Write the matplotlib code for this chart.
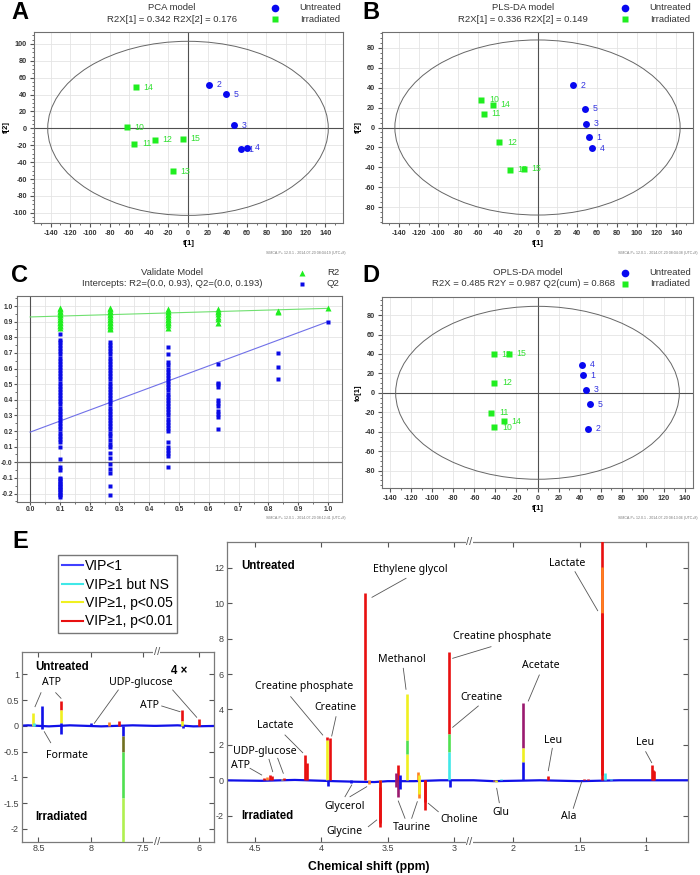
import matplotlib
matplotlib.use('Agg')
import matplotlib.pyplot as plt
from matplotlib.patches import Ellipse
from matplotlib.lines import Line2D
from matplotlib.ticker import FixedLocator, MultipleLocator, FixedFormatter

W, H = 700, 875
plt.rcParams['font.family'] = ['Liberation Sans', 'DejaVu Sans']
plt.rcParams['axes.unicode_minus'] = False

# ---------------- data ----------------
# Panel A (PCA)
A_unt_id = ['1', '2', '3', '4', '5']
A_unt_x = [54, 21.7, 47, 60, 39]
A_unt_y = [-24.5, 51.3, 3.9, -23, 40.6]
A_irr_id = ['10', '11', '12', '13', '14', '15']
A_irr_x = [-62.5, -54.6, -34, -15.3, -53, -5]
A_irr_y = [1.2, -18, -13.4, -51, 48.5, -12.6]
A_ellipse = [143, 103]

# Panel B (PLS-DA)
B_unt_id = ['1', '2', '3', '4', '5']
B_unt_x = [51.6, 35.4, 49, 55.3, 47.6]
B_unt_y = [-10, 42.6, 3.7, -20.8, 19]
B_irr_id = ['10', '11', '12', '13', '14', '15']
B_irr_x = [-56.7, -54, -38.5, -27.7, -44.9, -13.8]
B_irr_y = [28, 13.8, -15, -42.6, 23, -41.3]
B_ellipse = [144, 88]

# Panel D (OPLS-DA)
D_unt_id = ['1', '2', '3', '4', '5']
D_unt_x = [43.4, 48.1, 45.9, 42.4, 50.3]
D_unt_y = [17.9, -37, 3.1, 28.9, -11.6]
D_irr_id = ['10', '11', '12', '13', '14', '15']
D_irr_x = [-41, -44, -41, -41.4, -31.9, -27.5]
D_irr_y = [-35.7, -20.6, 10.3, 39.6, -29.2, 40.2]
D_ellipse = [135, 89]

# Panel C (permutation validation)
C_R2_x1, C_R2_1 = 0.1, [0.86, 0.87, 0.88, 0.89, 0.90, 0.91, 0.92, 0.93, 0.94, 0.95, 0.96, 0.97, 0.98, 0.99]
C_R2_x2, C_R2_2 = 0.267, [0.85, 0.86, 0.87, 0.88, 0.89, 0.90, 0.91, 0.92, 0.93, 0.94, 0.95, 0.96, 0.97, 0.98, 0.99]
C_R2_x3, C_R2_3 = 0.464, [0.86, 0.88, 0.89, 0.90, 0.91, 0.92, 0.93, 0.94, 0.95, 0.96, 0.97, 0.98]
C_R2_x4, C_R2_4 = 0.632, [0.89, 0.92, 0.93, 0.95, 0.96, 0.97, 0.98]
C_R2_x5, C_R2_5 = 0.831, [0.96, 0.965]
C_R2_x6, C_R2_6 = 1.0, [0.985]
C_Q2_1 = [-0.22, -0.21, -0.20, -0.19, -0.18, -0.17, -0.16, -0.15, -0.14, -0.13, -0.12, -0.11, -0.10,
          -0.05, -0.03, 0.02, 0.10, 0.13, 0.15, 0.17, 0.19, 0.21, 0.23, 0.25, 0.27, 0.29, 0.31, 0.33,
          0.35, 0.37, 0.39, 0.41, 0.43, 0.45, 0.47, 0.49, 0.51, 0.53, 0.55, 0.57, 0.59, 0.61, 0.63,
          0.65, 0.67, 0.69, 0.71, 0.73, 0.75, 0.77, 0.78, 0.82]
C_Q2_2 = [-0.21, -0.15, -0.07, -0.04, -0.01, 0.03, 0.06, 0.10, 0.12, 0.14, 0.17, 0.19, 0.21, 0.23,
          0.25, 0.27, 0.29, 0.31, 0.33, 0.35, 0.37, 0.39, 0.41, 0.43, 0.45, 0.47, 0.49, 0.51, 0.53,
          0.55, 0.57, 0.59, 0.61, 0.63, 0.65, 0.67, 0.69, 0.71, 0.73, 0.75, 0.77]
C_Q2_3 = [-0.03, 0.04, 0.06, 0.08, 0.10, 0.13, 0.20, 0.22, 0.24, 0.26, 0.28, 0.30, 0.32, 0.34, 0.36,
          0.38, 0.40, 0.42, 0.44, 0.46, 0.48, 0.50, 0.52, 0.54, 0.56, 0.58, 0.60, 0.62, 0.64, 0.69, 0.74]
C_Q2_4 = [0.21, 0.29, 0.31, 0.33, 0.36, 0.38, 0.40, 0.48, 0.50, 0.51, 0.63]
C_Q2_5 = [0.53, 0.61, 0.70]
C_Q2_6 = [0.90]
C_R2_intercept = 0.93
C_Q2_intercept = 0.193

# Panel E spectra: peak segments (ppm, from, to, colour class)
vip_colors = {'blue': '#1010e8', 'cyan': '#40e8e8', 'green': '#50e050', 'yellow': '#f0f020',
              'orange': '#ff8020', 'red': '#e81010', 'purple': '#9a1a70', 'olive': '#707020',
              'lime': '#b0f050'}

S_ppm = [8.55, 8.545, 8.468, 8.286, 8.286, 8.28, 8.0, 7.827, 7.73, 7.696, 7.696, 7.696, 7.696,
         6.157, 6.157, 6.15, 6.0]
S_y0 = [0, 0, -0.07, 0.30, 0.05, -0.15, 0, 0, 0, -0.2, -0.5, -1.4, -2.3,
        0.10, 0, -0.05, 0]
S_y1 = [0.24, 0.06, 0.38, 0.49, 0.30, 0.05, 0.05, 0.07, 0.10, 0, -0.2, -0.5, -1.4,
        0.31, 0.10, 0, 0.13]
S_cls = ['yellow', 'cyan', 'blue', 'red', 'yellow', 'blue', 'blue', 'orange', 'red', 'blue', 'olive',
         'green', 'lime', 'red', 'yellow', 'blue', 'red']

L_ppm = [4.43, 4.41, 4.385, 4.375, 4.30, 4.28, 4.121, 4.105, 3.957, 3.957, 3.937, 3.95,
         3.669, 3.78, 3.64, 3.561, 3.561, 3.555, 3.425, 3.42, 3.41, 3.435,
         3.351, 3.351, 3.351, 3.27, 3.265, 3.26, 3.22, 3.215,
         3.035, 3.035, 3.035, 3.03,
         2.15, 2.13, 2.09, 1.924, 1.924, 1.924, 1.74, 1.47, 1.44,
         1.335, 1.328, 1.328, 1.31, 1.26, 0.955, 0.945, 0.94]
L_y0 = [0, 0, 0, 0, 0, 0, 0, 0, 0, 2.3, 0, -0.3,
        0, -0.15, -0.2, -0.4, -2.66, -2.4, 0, -0.92, -0.5, -0.4,
        0, 1.5, 2.3, 0, -1.0, -0.8, -1.68, -1.2,
        2.6, 1.6, 0, -0.36,
        -0.06, -0.08, 0, 1.81, 1.05, 0, 0, 0, 0,
        0, 9.45, 0.3, 0, 0, 0, 0, 0]
L_y1 = [0.15, 0.2, 0.3, 0.25, 0.1, 0.12, 1.43, 1.0, 2.3, 2.46, 2.41, 0,
        10.6, 0, 0, 0, -0.4, 0, 0.86, 0, 0.3, 0.4,
        1.5, 2.3, 4.88, 0.49, 0, 0.3, 0, 0,
        7.27, 2.6, 1.6, 0,
        0, 0, 0.1, 4.35, 1.81, 1.05, 0.25, 0.1, 0.1,
        13.6, 12.07, 9.45, 0.4, 0.1, 0.86, 0.6, 0.5]
L_cls = ['red', 'orange', 'red', 'red', 'yellow', 'red', 'red', 'red', 'yellow', 'red', 'red', 'blue',
         'red', 'blue', 'orange', 'yellow', 'red', 'red', 'red', 'purple', 'blue', 'purple',
         'yellow', 'green', 'yellow', 'orange', 'orange', 'yellow', 'red', 'red',
         'red', 'green', 'cyan', 'blue',
         'orange', 'yellow', 'cyan', 'purple', 'yellow', 'blue', 'red', 'red', 'red',
         'red', 'orange', 'red', 'cyan', 'cyan', 'red', 'red', 'red']

base_S_ppm = [8.70, 8.60, 8.40, 8.20, 7.90, 7.60, 7.40, 6.40, 6.20, 6.05, 5.80]
base_S_val = [0.0, 0.01, -0.01, 0.01, -0.01, 0.01, 0.0, 0.0, 0.01, -0.01, 0.0]
base_L_ppm = [4.75, 4.45, 4.20, 3.90, 3.75, 3.60, 3.50, 3.30, 3.10, 2.90, 2.30, 2.15, 1.80, 1.50, 1.20, 0.90, 0.65]
base_L_val = [0.0, -0.03, 0.02, -0.05, -0.08, -0.1, -0.05, -0.05, 0.0, 0.0, 0.0, -0.05, 0.0, -0.05, 0.0, 0.0, 0.0]

legend_labels = ['VIP<1', 'VIP≥1 but NS', 'VIP≥1, p<0.05', 'VIP≥1, p<0.01']
legend_cls = ['blue', 'cyan', 'yellow', 'red']

# ---------------- helpers ----------------
fig = plt.figure(figsize=(7, 8.75), dpi=100)


def rect(x0, y0, x1, y1):
    return [x0 / W, 1 - y1 / H, (x1 - x0) / W, (y1 - y0) / H]


def ftext(x, y, s, **kw):
    kw.setdefault('ha', 'center')
    kw.setdefault('va', 'center')
    fig.text(x / W, 1 - y / H, s, **kw)


def fline(x0, y0, x1, y1, **kw):
    fig.add_artist(Line2D([x0 / W, x1 / W], [1 - y0 / H, 1 - y1 / H], transform=fig.transFigure, **kw))


def fmark(x, y, **kw):
    fig.add_artist(Line2D([x / W], [1 - y / H], transform=fig.transFigure, ls='none', **kw))


BLUE = '#0808f0'
GREEN = '#20ee20'
BLUE_T = '#3434e0'
GREEN_T = '#30e030'
SMALL = 6.3


def style_score(ax, lsize=5.2, tlen=3, pad=2):
    for s in ax.spines.values():
        s.set_color('#707070')
        s.set_linewidth(0.8)
    ax.tick_params(which='both', direction='out', color='#555555', labelsize=lsize, pad=pad)
    ax.tick_params(which='major', length=tlen)
    ax.tick_params(which='minor', length=tlen * 0.6)
    for lab in ax.get_xticklabels() + ax.get_yticklabels():
        lab.set_fontweight('bold')
        lab.set_color('#333333')
    ax.grid(True, which='major', color='#e4e4e4', lw=0.6)
    ax.set_axisbelow(True)


def score_panel(r, xlim, ylim, yticks, ell, ux, uy, uid, ix, iy, iid, ylab):
    ax = fig.add_axes(rect(*r))
    ax.set_xlim(xlim)
    ax.set_ylim(ylim)
    ax.xaxis.set_major_locator(FixedLocator(list(range(-140, 141, 20))))
    ax.yaxis.set_major_locator(FixedLocator(yticks))
    ax.xaxis.set_minor_locator(MultipleLocator(10))
    ax.yaxis.set_minor_locator(MultipleLocator(5))
    ax.axhline(0, color='#505050', lw=0.8, zorder=1)
    ax.axvline(0, color='#505050', lw=0.8, zorder=1)
    ax.add_patch(Ellipse((0, 0), 2 * ell[0], 2 * ell[1], fill=False, ec='#666666', lw=0.7, zorder=1))
    for x, y, t in zip(ux, uy, uid):
        ax.annotate(t, (x, y), xytext=(5.5, 0), textcoords='offset points', fontsize=SMALL,
                    color=BLUE_T, va='center', ha='left', zorder=2)
    for x, y, t in zip(ix, iy, iid):
        ax.annotate(t, (x, y), xytext=(5.5, 0), textcoords='offset points', fontsize=SMALL,
                    color=GREEN_T, va='center', ha='left', zorder=2)
    ax.plot(ux, uy, 'o', color=BLUE, ms=5, mec='none', zorder=3)
    ax.plot(ix, iy, 's', color=GREEN, ms=4.8, mec='none', zorder=3)
    style_score(ax)
    ax.set_ylabel(ylab, fontsize=5.5, fontweight='bold', labelpad=2)
    ax.set_xlabel('t[1]', fontsize=5.5, fontweight='bold', labelpad=2)
    return ax


def group_legend(xm, xt, y1, y2):
    fmark(xm, y1, marker='o', color=BLUE, ms=5.5, mec='none')
    fmark(xm, y2, marker='s', color=GREEN, ms=5, mec='none')
    ftext(xt, y1, 'Untreated', fontsize=6.8, color='#333333')
    ftext(xt, y2, 'Irradiated', fontsize=6.8, color='#333333')


# ---------------- Panel A ----------------
axA = score_panel((34, 32, 343, 223), (-157, 158), (-112, 114), list(range(-100, 101, 20)), A_ellipse,
                  A_unt_x, A_unt_y, A_unt_id, A_irr_x, A_irr_y, A_irr_id, 't[2]')
ftext(172, 7.5, 'PCA model', fontsize=6.8, color='#333333')
ftext(172, 19, 'R2X[1] = 0.342 R2X[2] = 0.176', fontsize=6.8, color='#333333')
group_legend(275, 319.7, 7.5, 19)
ftext(345, 252.7, 'SIMCA-P+ 12.0.1 - 2014-07-20 08:04:19 (UTC+8)', fontsize=2.6, color='#777777', ha='right')

# ---------------- Panel B ----------------
axB = score_panel((382, 32, 693, 223), (-157, 157), (-96, 96), list(range(-80, 81, 20)), B_ellipse,
                  B_unt_x, B_unt_y, B_unt_id, B_irr_x, B_irr_y, B_irr_id, 't[2]')
ftext(523, 7.5, 'PLS-DA model', fontsize=6.8, color='#333333')
ftext(523, 19, 'R2X[1] = 0.336 R2X[2] = 0.149', fontsize=6.8, color='#333333')
group_legend(625, 669.7, 7.5, 19)
ftext(697, 252.7, 'SIMCA-P+ 12.0.1 - 2014-07-20 08:04:38 (UTC+8)', fontsize=2.6, color='#777777', ha='right')

# ---------------- Panel D ----------------
axD = score_panel((382, 297, 693, 488), (-148, 148), (-98, 98.6), list(range(-80, 81, 20)), D_ellipse,
                  D_unt_x, D_unt_y, D_unt_id, D_irr_x, D_irr_y, D_irr_id, 'to[1]')
ftext(528, 272.7, 'OPLS-DA model', fontsize=6.8, color='#333333')
ftext(523, 283.7, 'R2X = 0.485 R2Y = 0.987 Q2(cum) = 0.868', fontsize=6.8, color='#333333')
group_legend(625, 669.7, 272.7, 283.7)
ftext(697, 517.7, 'SIMCA-P+ 12.0.1 - 2014-07-20 08:13:06 (UTC+8)', fontsize=2.6, color='#777777', ha='right')

# ---------------- Panel C ----------------
axC = fig.add_axes(rect(17, 296, 342, 502))
axC.set_xlim(-0.044, 1.047)
axC.set_ylim(-0.254, 1.064)
xt = [0.0, 0.1, 0.2, 0.3, 0.4, 0.5, 0.6, 0.7, 0.8, 0.9, 1.0]
axC.xaxis.set_major_locator(FixedLocator(xt))
axC.xaxis.set_major_formatter(FixedFormatter(['%.1f' % v for v in xt]))
yt = [-0.2, -0.1, 0.0, 0.1, 0.2, 0.3, 0.4, 0.5, 0.6, 0.7, 0.8, 0.9, 1.0]
axC.yaxis.set_major_locator(FixedLocator(yt))
axC.yaxis.set_major_formatter(FixedFormatter(['-0.2', '-0.1', '-0.0', '0.1', '0.2', '0.3', '0.4', '0.5',
                                              '0.6', '0.7', '0.8', '0.9', '1.0']))
axC.xaxis.set_minor_locator(MultipleLocator(0.05))
axC.yaxis.set_minor_locator(MultipleLocator(0.05))
axC.grid(True, which='minor', axis='x', color='#e4e4e4', lw=0.6)
axC.axhline(0, color='#707070', lw=0.9, zorder=1)
axC.axvline(0, color='#505050', lw=0.8, zorder=1)
style_score(axC, lsize=4.8, tlen=2, pad=1)
axC.plot([0, C_R2_x6], [C_R2_intercept, C_R2_6[0]], color='#70e070', lw=0.8, zorder=2)
axC.plot([0, C_R2_x6], [C_Q2_intercept, C_Q2_6[0]], color='#7070e8', lw=0.8, zorder=2)
for xv, vals in [(C_R2_x1, C_R2_1), (C_R2_x2, C_R2_2), (C_R2_x3, C_R2_3), (C_R2_x4, C_R2_4),
                 (C_R2_x5, C_R2_5), (C_R2_x6, C_R2_6)]:
    axC.plot([xv] * len(vals), vals, '^', color=GREEN, ms=4.5, mec='none', zorder=3)
for xv, vals in [(C_R2_x1, C_Q2_1), (C_R2_x2, C_Q2_2), (C_R2_x3, C_Q2_3), (C_R2_x4, C_Q2_4),
                 (C_R2_x5, C_Q2_5), (C_R2_x6, C_Q2_6)]:
    axC.plot([xv] * len(vals), vals, 's', color='#0a0ae6', ms=3.2, mec='none', zorder=3)
ftext(172, 272.7, 'Validate Model', fontsize=6.8, color='#333333')
ftext(172, 283.7, 'Intercepts: R2=(0.0, 0.93), Q2=(0.0, 0.193)', fontsize=6.8, color='#333333')
fmark(301.7, 272.7, marker='^', color=GREEN, ms=5, mec='none')
fmark(301.7, 283.7, marker='s', color='#0a0ae6', ms=3.5, mec='none')
ftext(339, 272.7, 'R2', fontsize=6.8, color='#333333', ha='right')
ftext(339, 283.7, 'Q2', fontsize=6.8, color='#333333', ha='right')
ftext(346, 517.7, 'SIMCA-P+ 12.0.1 - 2014-07-20 08:12:41 (UTC+8)', fontsize=2.6, color='#777777', ha='right')

# ---------------- Panel E ----------------
def style_spec(ax, left=True, right=True):
    for s in ax.spines.values():
        s.set_color('#7a7a7a')
        s.set_linewidth(0.9)
    ax.spines['left'].set_visible(left)
    ax.spines['right'].set_visible(right)
    ax.tick_params(direction='in', top=True, bottom=True, left=left, right=right,
                   labelleft=left, labelright=False, length=3.5, color='#555555',
                   labelsize=6.5, labelcolor='#404040', pad=2)


def draw_spec(ax, bppm, bval, ppm, y0, y1, cls):
    ax.plot(bppm, bval, color=vip_colors['blue'], lw=1.6, zorder=2)
    ax.vlines(ppm, y0, y1, colors=[vip_colors[c] for c in cls], lw=1.9, zorder=3)


yl_s = (-2.25, 1.44)
axEa = fig.add_axes(rect(21.7, 651.7, 156.7, 841.7))
axEb = fig.add_axes(rect(156.7, 651.7, 214.3, 841.7))
axEa.set_xlim(8.66, 7.37)
axEb.set_xlim(6.4, 5.85)
for a in (axEa, axEb):
    a.set_ylim(yl_s)
    draw_spec(a, base_S_ppm, base_S_val, S_ppm, S_y0, S_y1, S_cls)
axEa.set_xticks([8.5, 8.0, 7.5])
axEa.set_xticklabels(['8.5', '8', '7.5'])
axEa.set_yticks([1, 0.5, 0, -0.5, -1, -1.5, -2])
axEa.set_yticklabels(['1', '0.5', '0', '-0.5', '-1', '-1.5', '-2'])
axEb.set_xticks([6.0])
axEb.set_xticklabels(['6'])
axEb.set_yticks([1, 0.5, 0, -0.5, -1, -1.5, -2])
style_spec(axEa, left=True, right=False)
style_spec(axEb, left=False, right=True)

yl_b = (-3.47, 13.48)
axFa = fig.add_axes(rect(226.7, 541.7, 469.3, 841.7))
axFb = fig.add_axes(rect(469.3, 541.7, 688.3, 841.7))
axFa.set_xlim(4.714, 2.884)
axFb.set_xlim(2.333, 0.68)
for a in (axFa, axFb):
    a.set_ylim(yl_b)
    draw_spec(a, base_L_ppm, base_L_val, L_ppm, L_y0, L_y1, L_cls)
    a.set_yticks([-2, 0, 2, 4, 6, 8, 10, 12])
axFa.set_xticks([4.5, 4.0, 3.5, 3.0])
axFa.set_xticklabels(['4.5', '4', '3.5', '3'])
axFb.set_xticks([2.0, 1.5, 1.0])
axFb.set_xticklabels(['2', '1.5', '1'])
style_spec(axFa, left=True, right=False)
style_spec(axFb, left=False, right=True)

# break marks
for bx, by in [(156.7, 651.7), (156.7, 841.7), (469.3, 541.7), (469.3, 841.7)]:
    ftext(bx, by, '//', fontsize=8, color='#555555',
          bbox=dict(facecolor='white', edgecolor='none', pad=0.2))

# legend
handles = [Line2D([0], [0], color=vip_colors[c] if c != 'blue' else '#4040ff', lw=1.5) for c in legend_cls]
fig.legend(handles, legend_labels, loc='upper left', bbox_to_anchor=(57.7 / W, 1 - 555 / H),
           fontsize=10, frameon=True, fancybox=False, edgecolor='#555555', handlelength=1.5,
           handletextpad=0.15, labelspacing=0.32, borderpad=0.3, borderaxespad=0)

NOTO = ['Noto Sans', 'DejaVu Sans']
AF = 7.6
# small spectrum annotations
ftext(35, 667.3, 'Untreated', fontsize=8.3, fontweight='bold', ha='left')
ftext(35, 817.3, 'Irradiated', fontsize=8.3, fontweight='bold', ha='left')
ftext(179, 671, '4 ×', fontsize=8.3, fontweight='bold')
small_txt = [('ATP', 51, 682.3), ('UDP-glucose', 140.7, 682.7), ('ATP', 149, 706), ('Formate', 67.3, 755.7)]
for s, x, y in small_txt:
    ftext(x, y, s, fontsize=AF, family=NOTO)
small_lines = [(41, 692.7, 35, 706.7), (55.7, 692.7, 61, 698.3), (118.3, 690, 94.3, 723.3),
               (172.7, 690, 196.7, 717.3), (161.7, 706, 180, 711.7), (50.7, 742.7, 44.3, 731.7)]
for l in small_lines:
    fline(*l, color='#555555', lw=0.6)

ftext(241.7, 565.7, 'Untreated', fontsize=8.3, fontweight='bold', ha='left')
ftext(241.7, 816, 'Irradiated', fontsize=8.3, fontweight='bold', ha='left')
big_txt = [('Ethylene glycol', 410, 569.3), ('Lactate', 566.7, 563.3), ('Creatine phosphate', 502.3, 636),
           ('Methanol', 401.7, 659.3), ('Creatine', 481, 697.3), ('Acetate', 541, 665),
           ('Creatine phosphate', 304, 686), ('Creatine', 335.7, 707.7), ('Lactate', 275, 725),
           ('UDP-glucose', 265, 751.7), ('ATP', 240.7, 766), ('Leu', 553.3, 740.7), ('Leu', 645, 742.3),
           ('Glycerol', 345, 806.7), ('Glycine', 344.3, 831.7), ('Taurine', 411.7, 827.7),
           ('Choline', 459, 819), ('Glu', 501, 812.7), ('Ala', 568.3, 816.7)]
for s, x, y in big_txt:
    ftext(x, y, s, fontsize=AF, family=NOTO)
big_lines = [(406, 578.3, 372, 597.3), (575, 571.7, 597.7, 610.7), (491, 646.7, 452.7, 658.3),
             (403.3, 668.3, 406, 689.3), (478.3, 706, 452.7, 727.3), (539.3, 675, 528.3, 701),
             (290.7, 696.7, 322.7, 735), (336, 716.7, 331.7, 736), (285, 735, 302.7, 752.7),
             (277.7, 758.3, 283.3, 773.3), (269, 759.3, 272.7, 771.7), (250, 768.3, 261.7, 775),
             (552.3, 748.3, 548.3, 770.7), (645.7, 751.7, 651.7, 762.7), (345, 796.7, 351.7, 785),
             (350, 796.7, 366.7, 786.7), (368.3, 826.7, 376.7, 820), (405, 818.3, 398.3, 801),
             (411.7, 818.3, 417.3, 801.7), (438.3, 811.7, 428.3, 803.3), (499.3, 802.7, 496.7, 788.3),
             (573.3, 808.3, 581.7, 781.7)]
for l in big_lines:
    fline(*l, color='#555555', lw=0.6)
ftext(369, 866.7, 'Chemical shift (ppm)', fontsize=8.8, fontweight='bold')

# panel letters
for s, x, y in [('A', 20, 12.5), ('B', 371, 12.5), ('C', 20, 276), ('D', 371, 276), ('E', 20, 541.5)]:
    ftext(x, y, s, fontsize=17, fontweight='bold')

fig.savefig('out.png', dpi=100)
